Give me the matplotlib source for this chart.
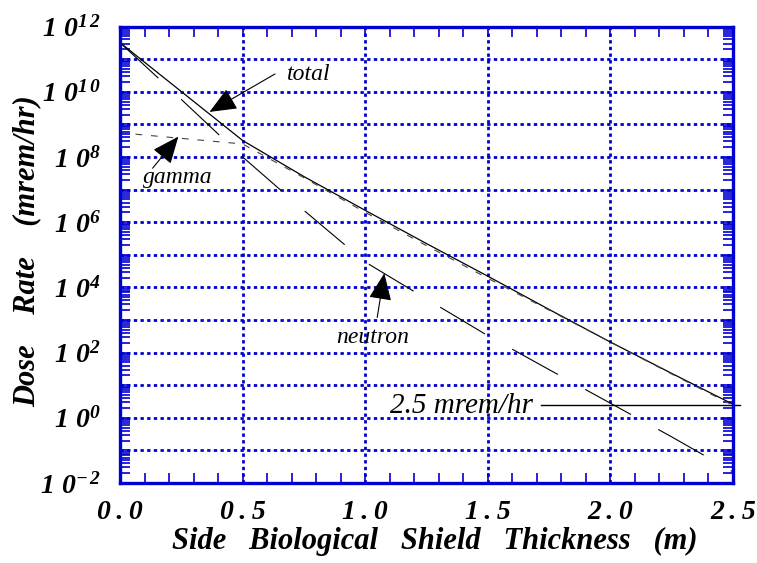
import matplotlib.pyplot as plt
from matplotlib.ticker import MultipleLocator, LogLocator, NullFormatter
from matplotlib.font_manager import FontProperties

# Shield thickness (m) and dose rates (mrem/hr)
x_total = [0.0, 0.5, 0.75, 1.0, 1.25, 1.5, 1.75, 2.0, 2.25, 2.5]
dose_total = [3.2e11, 3.2e8, 2.5e7, 2.3e6, 2.2e5, 2.2e4, 2.1e3, 210, 23, 2.6]

x_neutron = [0.0, 0.25, 0.5, 0.75, 1.0, 1.25, 1.5, 1.75, 2.0, 2.25, 2.5]
dose_neutron = [3.2e11, 5.8e9, 1.0e8, 2.3e6, 6.0e4, 4.4e3, 330, 30, 2.8, 0.26, 0.022]

x_gamma = [0.0, 0.5, 0.75, 1.0, 1.25, 1.5, 1.75, 2.0, 2.25, 2.5]
dose_gamma = [5.5e8, 2.5e8, 2.3e7, 2.0e6, 1.9e5, 1.9e4, 2.0e3, 210, 22, 2.4]

limit = 2.5  # mrem/hr design limit
x_ticks = [0.0, 0.5, 1.0, 1.5, 2.0, 2.5]
y_exps = list(range(-2, 13))

blue = '#0000d2'
plt.rcParams['font.family'] = 'Liberation Serif'
plt.rcParams['mathtext.fontset'] = 'custom'
plt.rcParams['mathtext.rm'] = 'Liberation Serif:bold:italic'
plt.rcParams['mathtext.it'] = 'Liberation Serif:bold:italic'
plt.rcParams['mathtext.bf'] = 'Liberation Serif:bold:italic'

tick_font = FontProperties(family='Liberation Serif', weight='bold', style='italic', size=20)
label_font = FontProperties(family='Liberation Serif', weight='bold', style='italic', size=22)
note_font = FontProperties(family='Liberation Serif', style='italic', size=17)

fig = plt.figure(figsize=(7.57, 5.63), dpi=100)
ax = fig.add_axes([120 / 757, 1 - 483 / 563, 613 / 757, 456.5 / 563])
ax.set_yscale('log')
ax.set_xlim(0, 2.5)
ax.set_ylim(1e-2, 1e12)

# curves
ax.plot(x_total, dose_total, color='black', lw=0.9)
ax.plot(x_neutron, dose_neutron, color='black', lw=0.8, dashes=(47, 28))
ax.plot(x_gamma, dose_gamma, color='#444444', lw=0.8, dashes=(6, 8))

# limit line
ax.plot([1.717, 2.53], [limit, limit], color='black', lw=1.0, clip_on=False)
ax.text(1.10, 1.38, '2.5 mrem/hr', fontproperties=FontProperties(family='Liberation Serif', style='italic', size=21),
        ha='left', va='baseline')

# labels with arrows
arrow = dict(arrowstyle='-|>,head_length=0.85,head_width=0.36', color='black', lw=0.8,
             mutation_scale=20, shrinkA=0, shrinkB=0)
ax.text(0.681, 2.3e10, 'total', fontproperties=note_font, ha='left', va='baseline')
ax.annotate('', xy=(0.365, 2.4e9), xytext=(0.632, 3.5e10), arrowprops=arrow)
ax.text(0.235, 1.6e7, 'gamma', fontproperties=note_font, ha='center', va='baseline')
ax.annotate('', xy=(0.238, 4.2e8), xytext=(0.133, 4.5e7), arrowprops=arrow)
ax.text(1.03, 1.95e2, 'neutron', fontproperties=note_font, ha='center', va='baseline')
ax.annotate('', xy=(1.078, 2.7e4), xytext=(1.049, 1.2e3), arrowprops=arrow)

# ticks
ax.set_xticks(x_ticks)
ax.set_xticklabels(['\u2009.\u2009'.join(f'{v:.1f}'.split('.')) for v in x_ticks], fontproperties=tick_font)
ax.xaxis.set_minor_locator(MultipleLocator(0.1))
ax.set_yticks([10.0 ** e for e in y_exps])
ylabels = []
for e in y_exps:
    if e % 2 == 0:
        ylabels.append(r'$\mathrm{1\,\,0^{%s}}$' % r'\,'.join(str(e)))
    else:
        ylabels.append('')
ax.set_yticklabels(ylabels, fontproperties=tick_font)
ax.yaxis.set_minor_locator(LogLocator(base=10, subs=range(2, 10), numticks=30))
ax.yaxis.set_minor_formatter(NullFormatter())
ax.tick_params(which='both', direction='in', top=True, right=True, color=blue, width=1.2, length=7)
ax.tick_params(axis='x', pad=12)
ax.tick_params(axis='y', pad=14)

for s in ax.spines.values():
    s.set_color(blue)
    s.set_linewidth(2.4)

ax.set_axisbelow(True)
ax.grid(True, which='major', color=blue, lw=2.0, linestyle=(0, (1.2, 1.2)))

fig.text(435 / 757, 1 - 541 / 563, 'Side   Biological   Shield   Thickness   (m)', fontproperties=label_font,
         ha='center', va='center')
fig.text(27 / 757, 1 - 251 / 563, 'Dose    Rate    (mrem/hr)', fontproperties=label_font,
         ha='center', va='center', rotation=90)

fig.savefig('out.png', dpi=100)
